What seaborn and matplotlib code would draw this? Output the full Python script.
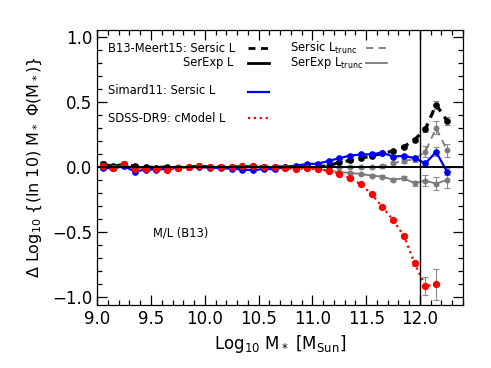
# Delta of stellar mass functions relative to B13-Meert15 SerExp L
import matplotlib
matplotlib.use("Agg")
import matplotlib.pyplot as plt
import seaborn as sns
from matplotlib.ticker import MultipleLocator

log_mass = [9.05, 9.15, 9.25, 9.35, 9.45, 9.55, 9.65, 9.75, 9.85, 9.95,
            10.05, 10.15, 10.25, 10.35, 10.45, 10.55, 10.65, 10.75, 10.85, 10.95,
            11.05, 11.15, 11.25, 11.35, 11.45, 11.55, 11.65, 11.75, 11.85, 11.95,
            12.05, 12.15, 12.25]

# B13-Meert15 Sersic L (black dashed)
sersic_l = [0.02, 0.005, 0.02, 0.005, 0.0, -0.005, 0.0, -0.005, 0.0, 0.005,
            0.0, 0.0, 0.0, 0.0, 0.005, 0.0, 0.0, 0.0, 0.0, 0.0,
            0.0, 0.01, 0.035, 0.05, 0.067, 0.085, 0.105, 0.122, 0.155, 0.21,
            0.29, 0.478, 0.356]
sersic_l_err = [0.025, 0.015, 0.015, 0.015, 0.01, 0.01, 0.01, 0.01, 0.01, 0.01,
                0.01, 0.01, 0.01, 0.01, 0.01, 0.01, 0.01, 0.01, 0.01, 0.01,
                0.01, 0.01, 0.01, 0.01, 0.01, 0.01, 0.01, 0.01, 0.01, 0.015,
                0.02, 0.03, 0.03]

# B13-Meert15 Sersic L_trunc (grey dashed)
sersic_trunc = [0.015, 0.0, 0.015, -0.01, -0.005, -0.01, -0.005, 0.0, 0.0, 0.005,
                0.0, 0.0, 0.0, 0.0, 0.005, 0.0, 0.0, 0.0, 0.0, 0.0,
                0.0, 0.0, 0.0, 0.0, 0.0, 0.0, 0.005, 0.03, 0.045, 0.06,
                0.118, 0.30, 0.13]
sersic_trunc_err = [0.025, 0.02, 0.015, 0.015, 0.01, 0.01, 0.01, 0.01, 0.01, 0.01,
                    0.01, 0.01, 0.01, 0.01, 0.01, 0.01, 0.01, 0.01, 0.01, 0.01,
                    0.01, 0.01, 0.01, 0.01, 0.01, 0.01, 0.01, 0.01, 0.015, 0.02,
                    0.04, 0.05, 0.05]

# B13-Meert15 SerExp L_trunc (grey solid)
serexp_trunc = [0.01, -0.005, 0.01, -0.01, -0.005, -0.01, -0.005, 0.0, 0.0, 0.0,
                0.0, 0.0, 0.0, 0.0, 0.0, 0.0, 0.0, 0.0, 0.0, -0.005,
                -0.015, -0.028, -0.04, -0.045, -0.054, -0.066, -0.074, -0.098, -0.087, -0.125,
                -0.105, -0.128, -0.1]
serexp_trunc_err = [0.025, 0.02, 0.015, 0.015, 0.01, 0.01, 0.01, 0.01, 0.01, 0.01,
                    0.01, 0.01, 0.01, 0.01, 0.01, 0.01, 0.01, 0.01, 0.01, 0.01,
                    0.01, 0.01, 0.01, 0.01, 0.01, 0.01, 0.01, 0.01, 0.015, 0.02,
                    0.04, 0.05, 0.06]

# Simard11 Sersic L (blue)
simard = [-0.01, -0.01, 0.005, -0.035, -0.02, -0.02, -0.015, -0.005, 0.0, 0.0,
          -0.005, -0.01, -0.012, -0.02, -0.025, -0.015, -0.018, 0.0, 0.01, 0.023,
          0.025, 0.046, 0.068, 0.087, 0.096, 0.097, 0.11, 0.08, 0.085, 0.068,
          0.028, 0.116, -0.035]
simard_err = [0.015, 0.015, 0.01, 0.015, 0.01, 0.01, 0.01, 0.01, 0.01, 0.01,
              0.01, 0.01, 0.01, 0.01, 0.01, 0.01, 0.01, 0.01, 0.01, 0.01,
              0.01, 0.01, 0.01, 0.01, 0.01, 0.01, 0.01, 0.01, 0.01, 0.015,
              0.02, 0.035, 0.03]

# SDSS-DR9 cModel L (red dotted), no last bin
cmodel_mass = log_mass[:-1]
cmodel = [0.01, -0.01, 0.02, -0.015, -0.015, -0.015, -0.02, -0.01, 0.0, 0.01,
          0.0, 0.0, 0.0, 0.005, 0.005, 0.0, -0.003, -0.01, -0.015, -0.01,
          -0.018, -0.03, -0.054, -0.087, -0.133, -0.208, -0.305, -0.408, -0.528, -0.74,
          -0.915, -0.9]
cmodel_err = [0.02, 0.015, 0.015, 0.015, 0.01, 0.01, 0.01, 0.01, 0.01, 0.01,
              0.01, 0.01, 0.01, 0.01, 0.01, 0.01, 0.01, 0.01, 0.01, 0.01,
              0.01, 0.01, 0.01, 0.01, 0.01, 0.01, 0.01, 0.01, 0.015, 0.02,
              0.07, 0.12]

# plain matplotlib look (IDL style), seaborn only for the lines
plt.rcParams.update({
    "font.family": ["DejaVu Sans"],
    "axes.linewidth": 0.9,
    "xtick.direction": "in", "ytick.direction": "in",
    "xtick.top": True, "ytick.right": True,
    "xtick.major.size": 7, "ytick.major.size": 7,
    "xtick.minor.size": 3.5, "ytick.minor.size": 3.5,
    "xtick.major.width": 0.9, "ytick.major.width": 0.9,
    "xtick.minor.width": 0.9, "ytick.minor.width": 0.9,
    "xtick.labelsize": 12, "ytick.labelsize": 12,
})

fig = plt.figure(figsize=(4.91, 3.68), dpi=100)
ax = fig.add_axes([0.198, 0.171, 0.745, 0.747])

ERR_COL = "#8c8c8c"

def draw(x, y, err, color, ls, lw, ms):
    ax.errorbar(x, y, yerr=err, fmt="none", ecolor=ERR_COL, elinewidth=0.8,
                capsize=2, capthick=0.8, zorder=2)
    sns.lineplot(x=x, y=y, ax=ax, errorbar=None, legend=False,
                 color=color, linewidth=lw, linestyle=ls, marker="o", markersize=ms,
                 markeredgecolor=color, markerfacecolor=color, zorder=3)

draw(log_mass, serexp_trunc, serexp_trunc_err, "#7a7a7a", "-", 1.3, 3.5)
draw(log_mass, sersic_trunc, sersic_trunc_err, "#7a7a7a", (0, (4, 3)), 1.3, 3.5)
draw(log_mass, sersic_l, sersic_l_err, "black", (0, (2.5, 2)), 2.3, 4)
draw(log_mass, simard, simard_err, "#0000ff", "-", 1.6, 4)
draw(cmodel_mass, cmodel, cmodel_err, "#ff0000", ":", 1.6, 4.5)

# reference (SerExp L) and the 10^12 marker
ax.axhline(0.0, color="black", linewidth=1.4, zorder=4)
ax.axvline(12.0, color="black", linewidth=1.0, zorder=4)

ax.set_xlim(9.0, 12.4)
ax.set_ylim(-1.06, 1.05)
ax.xaxis.set_major_locator(MultipleLocator(0.5))
ax.xaxis.set_minor_locator(MultipleLocator(0.1))
ax.yaxis.set_major_locator(MultipleLocator(0.5))
ax.yaxis.set_minor_locator(MultipleLocator(0.1))

ax.set_xlabel(r"Log$_{10}$ M$_*$ [M$_{\rm Sun}$]", fontsize=12, labelpad=4)
ax.set_ylabel(r"$\Delta$ Log$_{10}$ {(ln 10) M$_*$ $\Phi$(M$_*$)}", fontsize=11.5, labelpad=6)

# legend drawn by hand (IDL style)
fs = 8.3
tr = ax.transAxes
ax.text(0.03, 0.935, "B13-Meert15: Sersic L", transform=tr, fontsize=fs, va="center")
ax.text(0.372, 0.881, "SerExp L", transform=tr, fontsize=fs, va="center", ha="right")
ax.text(0.03, 0.782, "Simard11: Sersic L", transform=tr, fontsize=fs, va="center")
ax.text(0.03, 0.68, "SDSS-DR9: cModel L", transform=tr, fontsize=fs, va="center")
ax.text(0.527, 0.935, r"Sersic L$_{\rm trunc}$", transform=tr, fontsize=fs, va="center")
ax.text(0.527, 0.881, r"SerExp L$_{\rm trunc}$", transform=tr, fontsize=fs, va="center")
ax.plot([0.413, 0.47], [0.935, 0.935], transform=tr, color="black", lw=2, linestyle=(0, (2.5, 2)))
ax.plot([0.413, 0.47], [0.881, 0.881], transform=tr, color="black", lw=2)
ax.plot([0.413, 0.47], [0.776, 0.776], transform=tr, color="#0000ff", lw=1.6)
ax.plot([0.413, 0.47], [0.68, 0.68], transform=tr, color="#ff0000", lw=1.6, linestyle=":")
ax.plot([0.735, 0.792], [0.935, 0.935], transform=tr, color="#7a7a7a", lw=1.3, linestyle=(0, (4, 3)))
ax.plot([0.735, 0.792], [0.881, 0.881], transform=tr, color="#7a7a7a", lw=1.3)

ax.text(9.78, -0.51, "M/L (B13)", fontsize=8.3, ha="center", va="center")

# make sure every tick mark is on, inward, on all four sides
ax.tick_params(which="both", direction="in", top=True, right=True,
               bottom=True, left=True, color="black", zorder=5)
fig.canvas.draw()
for axis in (ax.xaxis, ax.yaxis):
    for tk in axis.get_major_ticks() + axis.get_minor_ticks():
        for ln in (tk.tick1line, tk.tick2line):
            ln.set_visible(True)
            ln.set_markeredgecolor("black")

fig.savefig("out.png", dpi=100)
